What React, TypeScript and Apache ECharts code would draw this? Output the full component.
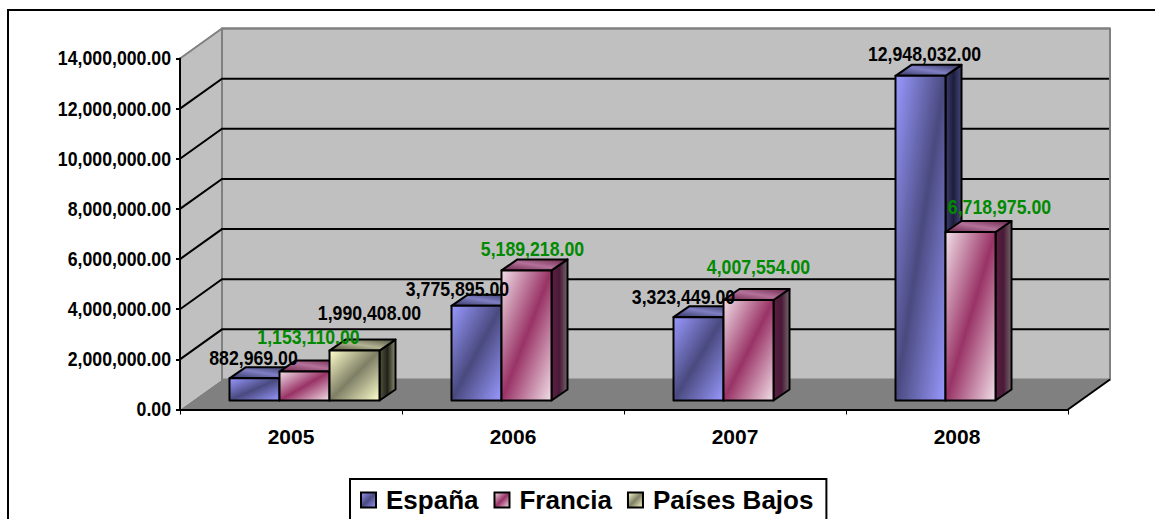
import React, { useEffect, useRef } from "react";
import * as echarts from "echarts";

const categories = ["2005", "2006", "2007", "2008"];
const espana = [882969, 3775895, 3323449, 12948032];
const francia = [1153110, 5189218, 4007554, 6718975];
const paisesBajos = [1990408, null, null, null];
const gridTicks = [0, 2000000, 4000000, 6000000, 8000000, 10000000, 12000000, 14000000];
const seriesNames = ["España", "Francia", "Países Bajos"];

// layout of the 3-D look, in pixels
const WALL_DX = 42;
const WALL_DY = -30;
const BAR_DX = 13.5;
const BAR_DY = -9;
const DEPTH_DX = 16;
const DEPTH_DY = -11;
const SLOT = 50;
const BAR_STROKE = "#000";

// hand-placed data label offsets from the bar's front-top centre: [dx, dy]
const labelOffsetsEs = [[-1, -20], [-19, -17], [-15, -20], [4, -22]];
const labelOffsetsFr = [[4, -34], [6, -21], [10, -33], [29, -25]];
const labelOffsetsPb = [[15, -37]];

const FONT = '"Liberation Sans", Arial, sans-serif';
const NUM_FONT = `bold 20px ${FONT}`;
const NUM_SCALE = 0.885;

const diag = (a: string, b: string) => ({
  type: "linear", x: 0, y: 0, x2: 1, y2: 1,
  colorStops: [{ offset: 0, color: a }, { offset: 0.5, color: b }, { offset: 1, color: a }],
});
const horiz = (a: string, b: string, c: string) => ({
  type: "linear", x: 0, y: 0, x2: 1, y2: 0,
  colorStops: [{ offset: 0, color: a }, { offset: 0.5, color: b }, { offset: 1, color: c }],
});
const topGrad = (a: string, b: string) => ({
  type: "linear", x: 0, y: 1, x2: 1, y2: 0,
  colorStops: [{ offset: 0, color: a }, { offset: 0.5, color: b }, { offset: 1, color: a }],
});

const palettes = [
  { front: diag("#9999ff", "#4a4a80"), side: horiz("#3d3d72", "#1e1e3c", "#45457c"), top: topGrad("#33335f", "#7f7fc4") },
  { front: diag("#f2dfe8", "#993366"), side: horiz("#5c1f42", "#4a1a38", "#74686c"), top: topGrad("#6a2448", "#b4729a") },
  { front: diag("#ffffcc", "#7f7f66"), side: horiz("#55553f", "#22221a", "#8f8f73"), top: topGrad("#4d4d3c", "#b5b594") },
];

function fmt(v: number) {
  return v.toLocaleString("en-US", { minimumFractionDigits: 2, maximumFractionDigits: 2 });
}

function barSeries(name: string, idx: number, values: (number | null)[]) {
  const pal = palettes[idx];
  return {
    name,
    type: "custom",
    z: 2,
    coordinateSystem: "cartesian2d",
    itemStyle: { color: pal.front, borderColor: "#000", borderWidth: 2 },
    data: values.map((v, i) => [i, v]).filter((d) => d[1] != null),
    renderItem: (_: any, api: any) => {
      const cat = api.value(0);
      const top = api.coord([cat, api.value(1)]);
      const base = api.coord([cat, 0]);
      const x0 = top[0] + BAR_DX + (idx - 1.5) * SLOT;
      const x1 = x0 + SLOT;
      const yT = top[1] + BAR_DY;
      const yB = base[1] + BAR_DY;
      const s = { stroke: BAR_STROKE, lineWidth: 2, lineJoin: "round" };
      return {
        type: "group",
        children: [
          {
            type: "polygon",
            shape: { points: [[x1, yT], [x1 + DEPTH_DX, yT + DEPTH_DY], [x1 + DEPTH_DX, yB + DEPTH_DY], [x1, yB]] },
            style: { fill: pal.side, ...s },
          },
          {
            type: "polygon",
            shape: { points: [[x0, yT], [x0 + DEPTH_DX, yT + DEPTH_DY], [x1 + DEPTH_DX, yT + DEPTH_DY], [x1, yT]] },
            style: { fill: pal.top, ...s },
          },
          {
            type: "rect",
            shape: { x: x0, y: yT, width: SLOT, height: yB - yT },
            style: { fill: pal.front, ...s },
          },
        ],
      };
    },
  };
}

function labelSeries(idx: number, values: (number | null)[], offsets: number[][], color: string) {
  return {
    type: "custom",
    z: 5,
    silent: true,
    coordinateSystem: "cartesian2d",
    data: values.map((v, i) => [i, v]).filter((d) => d[1] != null),
    renderItem: (_: any, api: any) => {
      const cat = api.value(0);
      const v = api.value(1);
      const top = api.coord([cat, v]);
      const o = offsets[cat];
      const xc = top[0] + BAR_DX + (idx - 1) * SLOT + o[0];
      return {
        type: "text",
        x: xc,
        y: top[1] + BAR_DY + o[1],
        scaleX: NUM_SCALE,
        style: {
          text: fmt(v),
          fill: color,
          font: NUM_FONT,
          align: "center",
          verticalAlign: "middle",
        },
      };
    },
  };
}

const tickLabelSeries = {
  type: "custom",
  z: 5,
  silent: true,
  coordinateSystem: "cartesian2d",
  data: gridTicks.map((t) => [0, t]),
  renderItem: (_: any, api: any) => {
    const v = api.value(1);
    const p = api.coord([0, v]);
    const band = api.size([1, 0])[0];
    return {
      type: "text",
      x: p[0] - band / 2 - 9,
      y: p[1],
      scaleX: NUM_SCALE,
      style: { text: fmt(v), fill: "#000", font: NUM_FONT, align: "right", verticalAlign: "middle" },
    };
  },
};

const wallSeries = {
  type: "custom",
  z: 1,
  silent: true,
  coordinateSystem: "cartesian2d",
  data: gridTicks.map((t) => [0, t]),
  renderItem: (_: any, api: any) => {
    const v = api.value(1);
    const p = api.coord([0, v]);
    const band = api.size([1, 0])[0];
    const xL = p[0] - band / 2;
    const xR = xL + band * categories.length;
    const y = p[1];
    const children: any[] = [];
    const maxV = gridTicks[gridTicks.length - 1];
    if (v === 0) {
      const yTop = api.coord([0, maxV])[1];
      children.push(
        {
          type: "polygon",
          shape: { points: [[xL, y], [xL + WALL_DX, y + WALL_DY], [xR + WALL_DX, y + WALL_DY], [xR, y]] },
          style: { fill: "#808080" },
        },
        {
          type: "polygon",
          shape: { points: [[xL, y], [xL + WALL_DX, y + WALL_DY], [xL + WALL_DX, yTop + WALL_DY], [xL, yTop]] },
          style: { fill: "#c0c0c0" },
        },
        {
          type: "rect",
          shape: { x: xL + WALL_DX, y: yTop + WALL_DY, width: xR - xL, height: y - yTop },
          style: { fill: "#c0c0c0", stroke: "#808080", lineWidth: 2 },
        },
        {
          type: "line",
          shape: { x1: xR, y1: y, x2: xR + WALL_DX, y2: y + WALL_DY },
          style: { stroke: "#000", lineWidth: 2 },
        }
      );
    } else {
      const c = v === maxV ? "#808080" : "#000";
      children.push(
        {
          type: "polyline",
          shape: { points: [[xL, y], [xL + WALL_DX, y + WALL_DY], [xR + WALL_DX - (v === maxV ? 0 : 1), y + WALL_DY]] },
          style: { stroke: c, lineWidth: 2, fill: "none" },
        }
      );
    }
    return { type: "group", children };
  },
};

export default function App() {
  const ref = useRef<HTMLDivElement>(null);
  useEffect(() => {
    document.body.style.margin = "0";
    const chart = echarts.init(ref.current!, null, { renderer: "svg" });
    chart.setOption({
      animation: false,
      backgroundColor: "#fff",
      grid: { left: 180, top: 58.5, width: 888, height: 351, containLabel: false },
      graphic: [
        {
          type: "polyline",
          z: 0,
          shape: { points: [[1155, 10], [8, 10], [8, 519]] },
          style: { stroke: "#000", lineWidth: 2, fill: "none" },
        },
      ],
      legend: {
        data: seriesNames,
        left: 350,
        top: 479,
        orient: "horizontal",
        backgroundColor: "#fff",
        borderColor: "#000",
        borderWidth: 2,
        borderRadius: 0,
        padding: [8, 13, 30, 10],
        itemWidth: 15,
        itemHeight: 15,
        itemGap: 15,
        icon: "rect",
        textStyle: { fontFamily: FONT, fontWeight: "bold", fontSize: 26, color: "#000", padding: [0, 0, 0, 5] },
        selectedMode: false,
      },
      xAxis: {
        type: "category",
        data: categories,
        z: 10,
        axisLine: { lineStyle: { color: "#000", width: 2 } },
        axisTick: { show: true, length: 5, alignWithLabel: false, lineStyle: { color: "#000", width: 1 } },
        axisLabel: { color: "#000", fontFamily: FONT, fontWeight: "bold", fontSize: 21, margin: 16 },
        splitLine: { show: false },
      },
      yAxis: {
        type: "value",
        min: 0,
        max: 14000000,
        interval: 2000000,
        z: 10,
        axisLine: { show: true, lineStyle: { color: "#000", width: 2 } },
        axisTick: { show: true, length: 4, lineStyle: { color: "#000", width: 2 } },
        axisLabel: { show: false },
        splitLine: { show: false },
      },
      series: [
        wallSeries,
        barSeries(seriesNames[0], 0, espana),
        barSeries(seriesNames[1], 1, francia),
        barSeries(seriesNames[2], 2, paisesBajos),
        labelSeries(0, espana, labelOffsetsEs, "#000"),
        labelSeries(1, francia, labelOffsetsFr, "#008a00"),
        labelSeries(2, paisesBajos, labelOffsetsPb, "#000"),
        tickLabelSeries,
      ],
    });
    return () => chart.dispose();
  }, []);
  return <div ref={ref} style={{ width: 1155, height: 519 }} />;
}
